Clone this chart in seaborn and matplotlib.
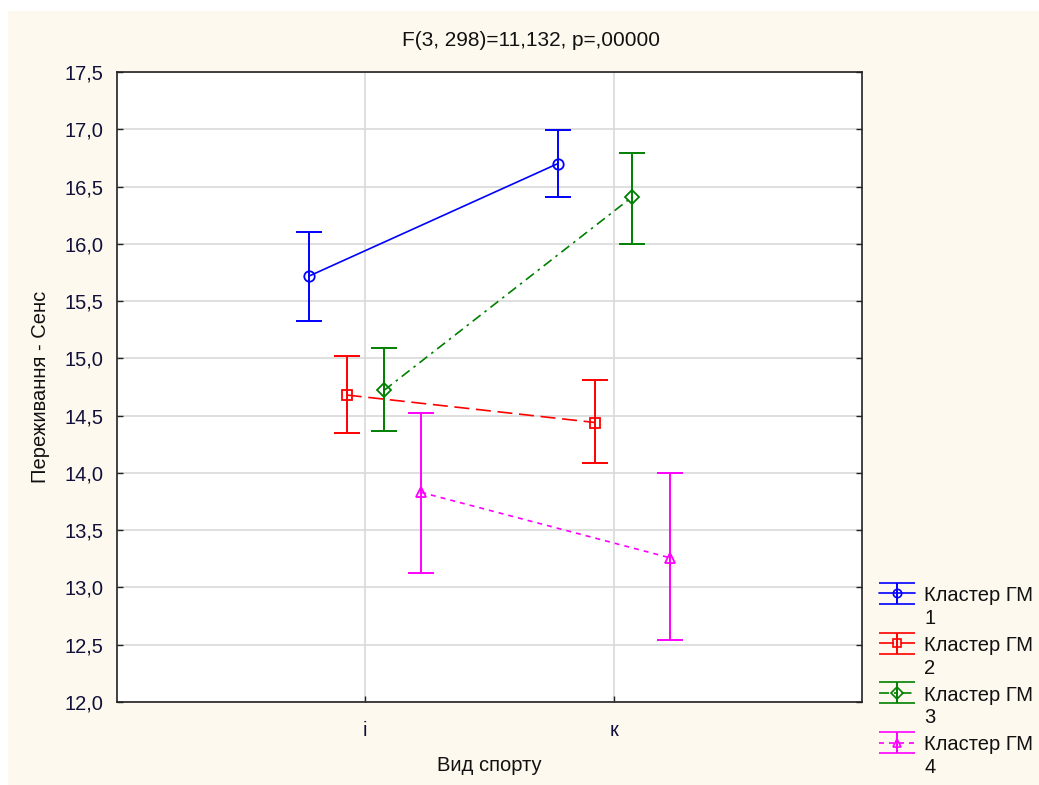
import matplotlib
matplotlib.use("Agg")
import matplotlib.pyplot as plt
import matplotlib.patches as mpatches
from matplotlib.legend_handler import HandlerErrorbar
import numpy as np
import pandas as pd
import seaborn as sns

# Categories (sport type) and cluster groups
sports = ["і", "к"]
clusters = ["Кластер ГМ\n1", "Кластер ГМ\n2", "Кластер ГМ\n3", "Кластер ГМ\n4"]

# Means and 95% confidence limits per cluster (order: і, к)
mean_1 = [15.72, 16.70]
low_1 = [15.33, 16.41]
high_1 = [16.10, 16.99]

mean_2 = [14.68, 14.44]
low_2 = [14.35, 14.09]
high_2 = [15.02, 14.81]

mean_3 = [14.72, 16.41]
low_3 = [14.37, 16.00]
high_3 = [15.09, 16.79]

mean_4 = [13.83, 13.26]
low_4 = [13.13, 12.54]
high_4 = [14.52, 14.00]

means = [mean_1, mean_2, mean_3, mean_4]
lows = [low_1, low_2, low_3, low_4]
highs = [high_1, high_2, high_3, high_4]

title = "F(3, 298)=11,132, p=,00000"
xlabel = "Вид спорту"
ylabel = "Переживання - Сенс"
yticks = [12.0, 12.5, 13.0, 13.5, 14.0, 14.5, 15.0, 15.5, 16.0, 16.5, 17.0, 17.5]

# Styling
colors = ["#0000ff", "#ff0000", "#008000", "#ff00ff"]
markers = ["o", "s", "D", "^"]
dashes = ["", (9, 4), (6, 3, 1.5, 3), (3, 3)]
linestyles = ["-", (0, (9, 4)), (0, (6, 3, 1.5, 3)), (0, (3, 3))]
offsets = [-0.225, -0.075, 0.075, 0.225]
LW = 1.2


class RaisedErrorbarHandler(HandlerErrorbar):
    """Errorbar legend key aligned with the first line of a two-line label."""

    def __init__(self, raise_by=1.25, **kw):
        super().__init__(**kw)
        self._raise_by = raise_by

    def adjust_drawing_area(self, legend, orig_handle, xdescent, ydescent,
                            width, height, fontsize):
        xd, yd, w, h = super().adjust_drawing_area(
            legend, orig_handle, xdescent, ydescent, width, height, fontsize)
        return xd, yd - self._raise_by * fontsize, w, h


sns.set_theme(style="white")
plt.rcParams["font.family"] = ["Liberation Sans", "DejaVu Sans"]

cream = "#fef9ee"
fig = plt.figure(figsize=(10.39, 7.85), dpi=100, facecolor="white")
fig.patches.append(mpatches.Rectangle((8 / 1039, 0), 1, 1 - 11 / 785,
                                      transform=fig.transFigure,
                                      facecolor=cream, edgecolor="none", zorder=-10))
ax = fig.add_axes([117 / 1039, 1 - 702 / 785, 745 / 1039, 630 / 785])
ax.set_facecolor("white")

rows = []
for ci, cl in enumerate(clusters):
    for si, sp in enumerate(sports):
        rows.append({"cluster": cl, "x": si + offsets[ci], "mean": means[ci][si],
                     "low": lows[ci][si], "high": highs[ci][si]})
df = pd.DataFrame(rows)

sns.lineplot(data=df, x="x", y="mean", hue="cluster", style="cluster",
             palette=dict(zip(clusters, colors)),
             dashes=dict(zip(clusters, dashes)),
             markers=dict(zip(clusters, markers)),
             markersize=7.5, markeredgewidth=1.3,
             linewidth=LW, legend=False, ax=ax, zorder=3)
for line, c in zip(ax.lines, colors):
    line.set_markeredgecolor(c)
    line.set_markerfacecolor("none")

for ci, cl in enumerate(clusters):
    sub = df[df["cluster"] == cl]
    ax.errorbar(sub["x"], sub["mean"],
                yerr=[sub["mean"] - sub["low"], sub["high"] - sub["mean"]],
                fmt="none", ecolor=colors[ci], elinewidth=1.4, capsize=9.5,
                capthick=1.4, zorder=2)

# legend keys: errorbar-style proxies (NaN data, nothing drawn on the axes)
proxies = []
for ci in range(4):
    eb = ax.errorbar([np.nan], [np.nan], yerr=[1.0], fmt=markers[ci],
                     linestyle=linestyles[ci], color=colors[ci], linewidth=LW,
                     markersize=6, markerfacecolor="none",
                     markeredgecolor=colors[ci], markeredgewidth=1.2,
                     elinewidth=1.4, capsize=13, capthick=1.4)
    proxies.append(eb)

ax.set_xlim(-1, 2)
ax.set_ylim(12.0, 17.5)
ax.set_xticks([0, 1])
ax.set_xticklabels(sports)
ax.set_yticks(yticks)
ax.set_yticklabels([f"{v:.1f}".replace(".", ",") for v in yticks])
ax.grid(True, color="#d9d9d9", linewidth=1.2)
ax.set_axisbelow(True)
for s in ax.spines.values():
    s.set_color("#222222")
    s.set_linewidth(1.2)
ax.tick_params(axis="both", direction="in", length=4, width=1, color="#222222",
               labelsize=14.5, labelcolor="#10103a", pad=10)
ax.tick_params(axis="y", right=True, left=True)
ax.tick_params(axis="x", bottom=True, pad=14)

fig.text(531 / 1039, 1 - 40 / 785, title, fontsize=15, color="#111111",
         ha="center", va="center")
ax.set_xlabel(xlabel, fontsize=14.5, color="#111111", labelpad=11)
ax.set_ylabel(ylabel, fontsize=14.5, color="#111111", labelpad=10)

fs = 14.5
leg = fig.legend(proxies, clusters, loc="upper left",
                 bbox_to_anchor=(879 / 1039, 1 - 586 / 785),
                 frameon=False, fontsize=fs, handlelength=1.8,
                 handletextpad=0.45, labelspacing=0.4, borderaxespad=0,
                 borderpad=0,
                 handler_map={type(proxies[0]): RaisedErrorbarHandler(
                     raise_by=1.4, yerr_size=0.52)})
for t in leg.get_texts():
    t.set_color("#111111")
    t.set_linespacing(1.25)

fig.savefig("out.png", dpi=100, facecolor=fig.get_facecolor())
